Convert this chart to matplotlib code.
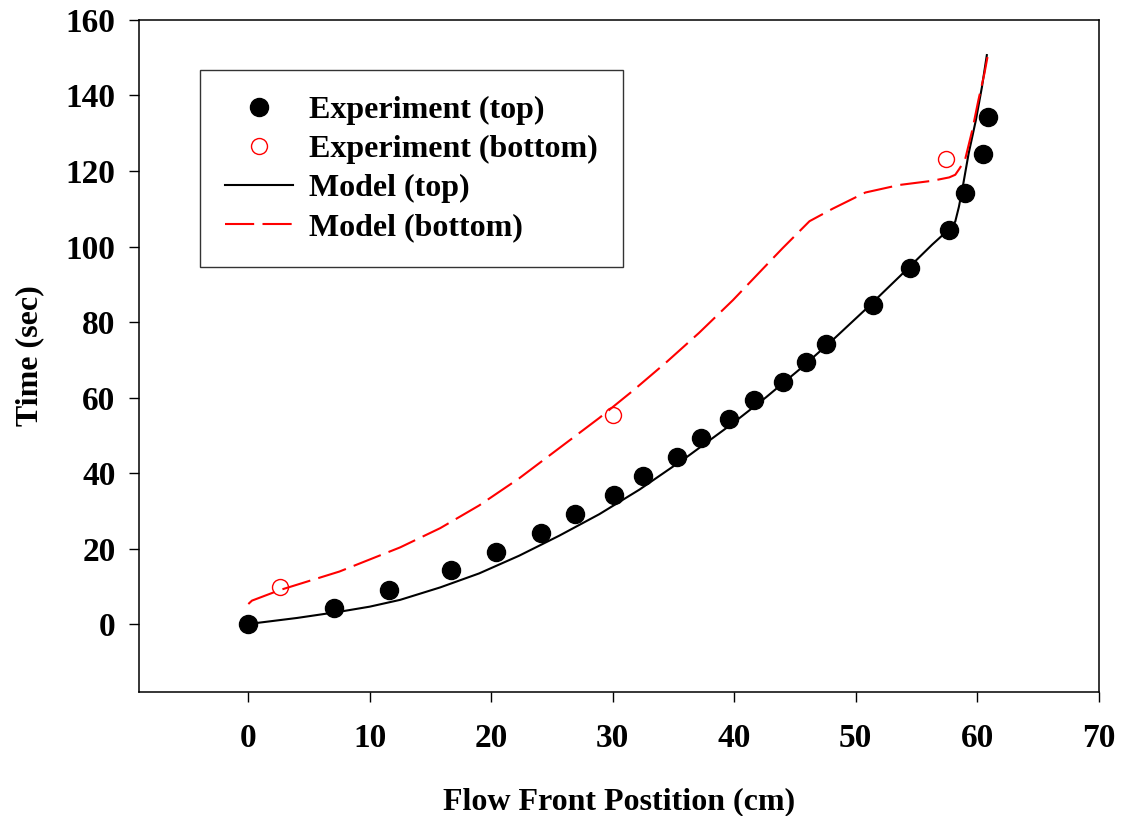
import numpy as np
import matplotlib.pyplot as plt

# Flow front position vs. time, experiment and model, top and bottom surfaces

exp_top_x = [0.0, 7.05, 11.6, 16.7, 20.4, 24.1, 26.9, 30.1, 32.5, 35.3, 37.3,
             39.6, 41.6, 44.0, 45.9, 47.6, 51.4, 54.5, 57.7, 59.0, 60.5, 60.9]
exp_top_y = [0.0, 4.3, 9.1, 14.4, 19.2, 24.2, 29.2, 34.2, 39.2, 44.2, 49.3,
             54.4, 59.4, 64.2, 69.3, 74.3, 84.4, 94.3, 104.4, 114.3, 124.4, 134.4]

exp_bot_x = [2.6, 30.0, 57.4]
exp_bot_y = [9.9, 55.3, 123.2]

model_top_x = [0, 2, 4, 7.6, 10, 12.5, 15.8, 19.0, 22.3, 25.6, 28.9, 32.2, 36.0,
               39.9, 42.6, 45.4, 48.1, 50.8, 53.6, 56.3, 57.7, 58.2, 58.5, 58.8,
               59.3, 59.9, 60.4, 60.8]
model_top_y = [0, 0.8, 1.6, 3.3, 4.6, 6.4, 9.7, 13.4, 18.1, 23.4, 29.1, 35.6, 44.0,
               53.2, 60.0, 67.5, 75.2, 83.3, 92.0, 100.5, 104.6, 106.6, 110.5, 115.5,
               124.6, 133.5, 142.3, 150.7]

model_bot_x = [0, 0.3, 2.6, 7.5, 12.5, 15.8, 19.0, 22.3, 25.6, 28.9, 31.7, 34.4,
               37.1, 39.9, 42.6, 44.0, 46.2, 48.1, 50.8, 53.6, 56.3, 57.7, 58.2,
               58.5, 59.0, 59.6, 60.1, 60.6, 60.9]
model_bot_y = [5.3, 6.2, 9.0, 13.9, 20.3, 25.4, 31.4, 38.6, 46.6, 54.6, 61.9, 69.3,
               77.1, 85.8, 94.9, 99.6, 106.7, 110.0, 114.3, 116.3, 117.4, 118.3, 119.0,
               120.4, 122.9, 130.8, 138.7, 145.8, 151.0]

plt.rcParams['font.family'] = ['Liberation Serif', 'DejaVu Serif']
plt.rcParams['font.weight'] = 'bold'

fig = plt.figure(figsize=(11.21, 8.16), dpi=100)
ax = fig.add_axes([0.124, 0.152, 0.856, 0.8235])

l_top, = ax.plot(model_top_x, model_top_y, color='black', lw=1.5, zorder=2)
l_bot, = ax.plot(model_bot_x, model_bot_y, color='red', lw=1.5,
                 dashes=(14, 4), zorder=2)
p_top, = ax.plot(exp_top_x, exp_top_y, 'o', color='black', ms=13, zorder=3)
p_bot, = ax.plot(exp_bot_x, exp_bot_y, 'o', mfc='none', mec='red', mew=1.0,
                 ms=11.5, zorder=3)

ax.set_xlim(-9, 70)
ax.set_ylim(-18, 160)
ax.set_xticks(np.arange(0, 71, 10))
ax.set_yticks(np.arange(0, 161, 20))

for s in ax.spines.values():
    s.set_linewidth(1.1)
ax.tick_params(axis='both', direction='out', length=7, width=1.0, labelsize=24)
ax.tick_params(axis='x', pad=15)
ax.tick_params(axis='y', pad=10)

ax.set_xlabel('Flow Front Postition (cm)', fontsize=23, fontweight='bold', labelpad=24)
ax.set_ylabel('Time (sec)', fontsize=23, fontweight='bold', labelpad=15)

leg = ax.legend([p_top, p_bot, l_top, l_bot],
                ['Experiment (top)', 'Experiment (bottom)', 'Model (top)', 'Model (bottom)'],
                loc='upper left', bbox_to_anchor=(0.0635, 0.9256), fontsize=23,
                frameon=True, fancybox=False, edgecolor='#333333', framealpha=1,
                handlelength=2.1, handletextpad=0.5, labelspacing=0.3,
                borderpad=0.8, borderaxespad=0)
leg.get_frame().set_linewidth(1.0)

fig.savefig('out.png', dpi=100)
